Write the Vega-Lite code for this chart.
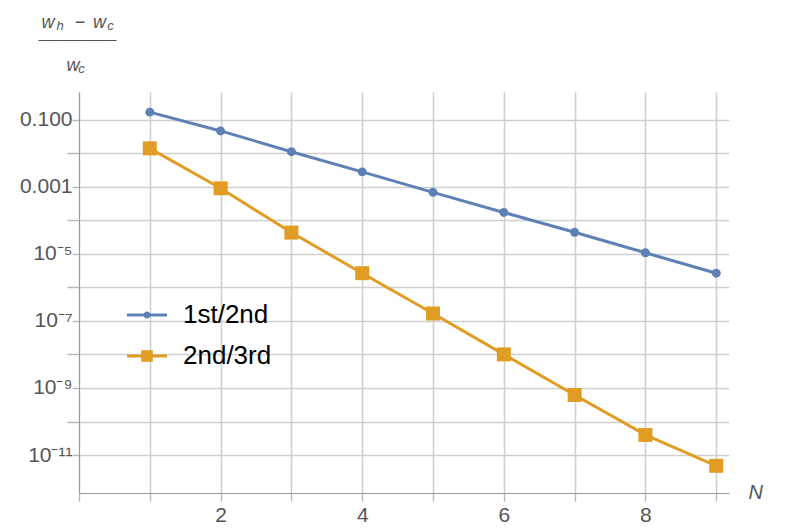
{
  "$schema": "https://vega.github.io/schema/vega-lite/v6.json",
  "width": 650,
  "height": 401,
  "autosize": {"type": "none"},
  "padding": {"left": 79, "top": 92, "right": 61, "bottom": 36},
  "background": "white",
  "data": {
    "values": [
      {"N": 1, "series": "1st/2nd", "value": 0.166},
      {"N": 2, "series": "1st/2nd", "value": 0.0457},
      {"N": 3, "series": "1st/2nd", "value": 0.011},
      {"N": 4, "series": "1st/2nd", "value": 0.00275},
      {"N": 5, "series": "1st/2nd", "value": 0.000676},
      {"N": 6, "series": "1st/2nd", "value": 0.00017},
      {"N": 7, "series": "1st/2nd", "value": 4.37e-5},
      {"N": 8, "series": "1st/2nd", "value": 1.07e-5},
      {"N": 9, "series": "1st/2nd", "value": 2.63e-6},
      {"N": 1, "series": "2nd/3rd", "value": 0.0138},
      {"N": 2, "series": "2nd/3rd", "value": 8.91e-4},
      {"N": 3, "series": "2nd/3rd", "value": 4.27e-5},
      {"N": 4, "series": "2nd/3rd", "value": 2.63e-6},
      {"N": 5, "series": "2nd/3rd", "value": 1.66e-7},
      {"N": 6, "series": "2nd/3rd", "value": 1.0e-8},
      {"N": 7, "series": "2nd/3rd", "value": 6.17e-10},
      {"N": 8, "series": "2nd/3rd", "value": 3.98e-11},
      {"N": 9, "series": "2nd/3rd", "value": 4.79e-12}
    ]
  },
  "encoding": {
    "y": {
      "field": "value",
      "type": "quantitative",
      "scale": {"type": "log", "domain": [7.4e-13, 0.661], "nice": false},
      "axis": {
        "values": [0.1, 0.01, 0.001, 1e-4, 1e-5, 1e-6, 1e-7, 1e-8, 1e-9, 1e-10, 1e-11],
        "labelExpr": "datum.value > 0.05 ? '0.100' : (datum.value > 5e-4 && datum.value < 5e-3) ? '0.001' : (datum.value > 5e-6 && datum.value < 5e-5) ? '10\u207b\u2075' : (datum.value > 5e-8 && datum.value < 5e-7) ? '10\u207b\u2077' : (datum.value > 5e-10 && datum.value < 5e-9) ? '10\u207b\u2079' : (datum.value > 5e-12 && datum.value < 5e-11) ? '10\u207b\u00b9\u00b9' : ''",
        "tickSize": {"condition": {"test": "round(log(datum.value) / LN10) % 2 != 0", "value": 7}, "value": 12},
        "labelPadding": 0,
        "title": ["w\u00a0\u00a0\u00a0\u00a0\u2212\u00a0\u2006w", "\u200b\u00a0\u00a0\u00a0\u00a0\u00a0w"],
        "titleAngle": 0,
        "titleAlign": "left",
        "titleBaseline": "alphabetic",
        "titleX": -38,
        "titleY": -65,
        "titleFontSize": 18,
        "titleFontStyle": "italic",
        "titleLineHeight": 43
      }
    }
  },
  "layer": [
    {
      "transform": [{"filter": "datum.series == '1st/2nd'"}],
      "mark": {"type": "line", "strokeWidth": 3, "color": "#5e81b5"},
      "encoding": {
        "x": {
          "field": "N",
          "type": "quantitative",
          "scale": {"domain": [0, 9.18], "nice": false, "zero": false},
          "axis": {
            "orient": "bottom",
            "values": [0, 0.5, 1, 1.5, 2, 2.5, 3, 3.5, 4, 4.5, 5, 5.5, 6, 6.5, 7, 7.5, 8, 8.5, 9],
            "format": "d",
            "labelExpr": "datum.value > 0 && datum.value % 2 == 0 ? datum.label : ''",
            "tickSize": {"condition": {"test": "datum.value % 1 != 0", "value": -4}, "value": 8},
            "gridOpacity": {"condition": {"test": "datum.value % 1 != 0", "value": 0}, "value": 1},
            "labelPadding": 3,
            "title": "N",
            "titleAlign": "left",
            "titleBaseline": "alphabetic",
            "titleX": 669,
            "titleY": 5,
            "titleFontSize": 20,
            "titleFontStyle": "italic"
          }
        }
      }
    },
    {
      "transform": [{"filter": "datum.series == '2nd/3rd'"}],
      "mark": {"type": "line", "strokeWidth": 3, "color": "#e19c24"},
      "encoding": {
        "x": {
          "field": "N",
          "type": "quantitative",
          "scale": {"domain": [0, 9.18], "nice": false, "zero": false},
          "axis": null
        }
      }
    },
    {
      "transform": [{"filter": "datum.series == '1st/2nd'"}],
      "mark": {"type": "point", "filled": true, "opacity": 1, "shape": "circle", "size": 80},
      "encoding": {
        "x": {
          "field": "N",
          "type": "quantitative",
          "scale": {"domain": [0, 9.18], "nice": false, "zero": false},
          "axis": {
            "orient": "top",
            "grid": false,
            "ticks": false,
            "labels": false,
            "domain": false,
            "title": ["\u200b\u00a0\u00a0\u00a0\u00a0\u00a0h\u00a0\u00a0\u00a0\u00a0\u00a0\u00a0\u00a0\u00a0\u00a0\u00a0\u00a0\u00a0c", "\u2015\u2015\u2015\u2015\u2015\u2015", "\u200b", "\u200b\u00a0\u00a0\u00a0\u00a0\u00a0\u00a0\u00a0\u00a0\u00a0\u00a0\u00a0c"],
            "titleAlign": "left",
            "titleBaseline": "alphabetic",
            "titleX": -41,
            "titleY": -62.5,
            "titleFontSize": 13,
            "titleFontStyle": "italic",
            "titleLineHeight": 14.3
          }
        },
        "fill": {
          "field": "series",
          "type": "nominal",
          "scale": {"domain": ["1st/2nd"], "range": ["#5e81b5"]},
          "legend": {
            "orient": "none",
            "legendX": 48,
            "legendY": 203,
            "title": null,
            "padding": 0,
            "symbolType": "M-1,-0.07H1V0.07H-1Z M-0.17,0A0.17,0.17 0 1,1 0.17,0A0.17,0.17 0 1,1 -0.17,0Z",
            "symbolSize": 1600,
            "symbolStrokeWidth": 0,
            "symbolOpacity": 1,
            "labelFont": "Liberation Sans",
            "labelFontSize": 26,
            "labelColor": "black",
            "labelOffset": 16
          }
        }
      }
    },
    {
      "transform": [{"filter": "datum.series == '2nd/3rd'"}],
      "mark": {"type": "point", "filled": true, "opacity": 1, "shape": "square", "size": 196},
      "encoding": {
        "x": {
          "field": "N",
          "type": "quantitative",
          "scale": {"domain": [0, 9.18], "nice": false, "zero": false},
          "axis": null
        },
        "color": {
          "field": "series",
          "type": "nominal",
          "scale": {"domain": ["2nd/3rd"], "range": ["#e19c24"]},
          "legend": {
            "orient": "none",
            "legendX": 48,
            "legendY": 244,
            "title": null,
            "padding": 0,
            "symbolType": "M-1,-0.07H1V0.07H-1Z M-0.29,-0.29H0.29V0.29H-0.29Z",
            "symbolSize": 1600,
            "symbolStrokeWidth": 0,
            "symbolOpacity": 1,
            "labelFont": "Liberation Sans",
            "labelFontSize": 26,
            "labelColor": "black",
            "labelOffset": 16
          }
        }
      }
    }
  ],
  "resolve": {"axis": {"x": "independent"}},
  "config": {
    "view": {"stroke": null},
    "axis": {
      "grid": true,
      "gridColor": "#cfcfcf",
      "gridWidth": 1.6,
      "domainColor": "#999999",
      "domainWidth": 1,
      "tickColor": "#b8b8b8",
      "tickWidth": 1.4,
      "labelFont": "Liberation Sans",
      "labelFontSize": 21,
      "labelColor": "#555555",
      "labelOverlap": false,
      "labelFlush": false,
      "labelBound": false,
      "titleFont": "Liberation Sans",
      "titleColor": "#555555",
      "titleFontWeight": "normal"
    }
  }
}
